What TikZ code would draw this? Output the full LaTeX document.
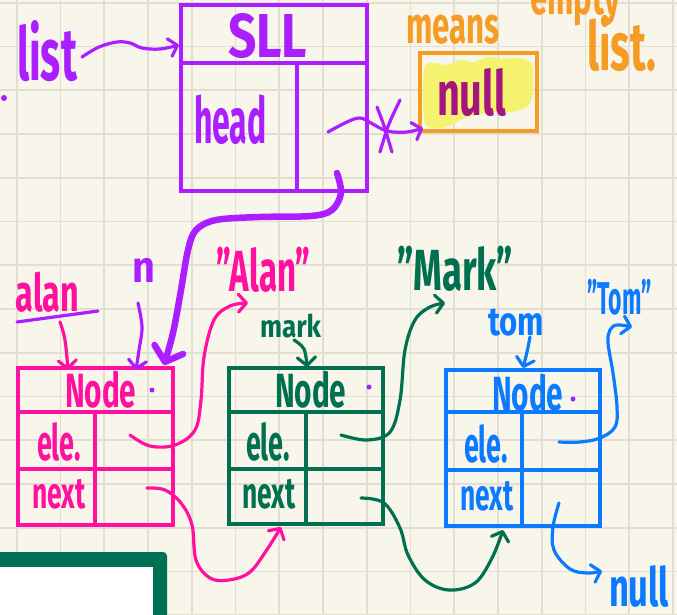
\documentclass[tikz,border=0pt]{standalone}
\usepackage{fontspec}
\setmainfont{Fira Sans}
\usetikzlibrary{arrows.meta,fit}

\definecolor{paper}{RGB}{248,246,234}
\definecolor{rule}{RGB}{225,223,210}
\definecolor{violetink}{RGB}{170,30,255}
\definecolor{pinkink}{RGB}{255,16,160}
\definecolor{greenink}{RGB}{0,112,80}
\definecolor{blueink}{RGB}{12,122,255}
\definecolor{orangeink}{RGB}{246,155,35}
\definecolor{plumink}{RGB}{166,20,128}
\definecolor{marker}{RGB}{244,242,110}
\definecolor{framegreen}{RGB}{0,112,82}

% squeeze a word horizontally, like a narrow hand
\newcommand\narrow[2]{\scalebox{#1}[1]{#2}}

\tikzset{
  cell/.style={draw=#1, line width=4pt, inner sep=0pt, outer sep=0pt},
  word/.style 2 args={text=#1, font=\bfseries\fontsize{#2pt}{#2pt}\selectfont,
    anchor=base west, inner sep=0pt, outer sep=0pt},
  link/.style={draw=#1, line width=3.2pt, line cap=round, line join=round,
    -{Straight Barb[round,length=8pt,width=18pt]}},
  fat/.style={draw=#1, line width=6.5pt, line cap=round, line join=round,
    -{Straight Barb[round,length=13pt,width=30pt]}},
  stroke/.style={draw=#1, line width=3.2pt, line cap=round, line join=round},
}

\begin{document}
\begin{tikzpicture}[x=1pt,y=-1pt]
\useasboundingbox (0,0) rectangle (677,614);
\fill[paper] (0,0) rectangle (677,614);

% squared paper
\foreach \i in {0,...,15}
  \draw[rule, line width=1.8pt] ({16.7+43.75*\i},0) -- ({16.7+43.75*\i},614);
\foreach \j in {0,...,14}
  \draw[rule, line width=1.8pt] (0,{2.7+43.75*\j}) -- (677,{2.7+43.75*\j});

% ---------- the list object ----------
\node[cell=violetink, fit={(181,5)(367,63)}] (sll-title) {};
\node[cell=violetink, fit={(181,63)(297,191)}] (sll-headkey) {};
\node[cell=violetink, fit={(297,63)(367,191)}] (sll-headval) {};
\node[word={violetink}{62}] (sll-txt) at (228,57) {\narrow{0.8}{SLL}};
\node[word={violetink}{64}] (head-txt) at (194,143) {\narrow{0.5}{head}};

\node[word={violetink}{74}] (lst-txt) at (17,80) {\narrow{0.56}{list}};
\fill[violetink] (4,98) circle (3);

% empty-list note
\fill[marker] plot[smooth cycle, tension=0.6] coordinates {
  (424,70) (433,63) (447,65) (460,60) (474,62) (488,57) (503,59) (518,58)
  (531,63) (533,80) (532,98) (525,108) (510,112) (493,112) (476,115)
  (462,119) (450,126) (432,128) (424,118)};
\node[cell=orangeink, fit={(420,53)(537,131)}] (nullbox) {};
\node[word={plumink}{62}] (null-txt) at (437,115) {\narrow{0.64}{null}};
\node[word={orangeink}{52}] (means-txt) at (406,43) {\narrow{0.6}{means}};
\node[word={orangeink}{52}] (empty-txt) at (530,14) {\narrow{0.6}{empty}};
\node[word={orangeink}{68}] (list-txt) at (587,70) {\narrow{0.6}{list.}};

% ---------- three nodes ----------
% pink
\node[cell=pinkink, fit={(18,368)(173,412)}] (pk-title) {};
\node[cell=pinkink, fit={(18,412)(95,469)}] (pk-elekey) {};
\node[cell=pinkink, fit={(95,412)(173,469)}] (pk-eleval) {};
\node[cell=pinkink, fit={(18,469)(95,525)}] (pk-nextkey) {};
\node[cell=pinkink, fit={(95,469)(173,525)}] (pk-nextval) {};
\node[word={pinkink}{48}] (pk-name) at (65,407) {\narrow{0.62}{Node}};
\node[word={pinkink}{50}] (pk-ele) at (37,460) {\narrow{0.54}{ele.}};
\node[word={pinkink}{44}] (pk-next) at (32,508) {\narrow{0.6}{next}};
\fill[violetink] (152,390) circle (2.5);

% green
\node[cell=greenink, fit={(229,368)(383,412)}] (gr-title) {};
\node[cell=greenink, fit={(229,412)(306,469)}] (gr-elekey) {};
\node[cell=greenink, fit={(306,412)(383,469)}] (gr-eleval) {};
\node[cell=greenink, fit={(229,469)(306,524)}] (gr-nextkey) {};
\node[cell=greenink, fit={(306,469)(383,524)}] (gr-nextval) {};
\node[word={greenink}{48}] (gr-name) at (275,407) {\narrow{0.62}{Node}};
\node[word={greenink}{50}] (gr-ele) at (246,460) {\narrow{0.54}{ele.}};
\node[word={greenink}{44}] (gr-next) at (242,508) {\narrow{0.6}{next}};
\fill[violetink] (369,387) circle (2.5);

% blue
\node[cell=blueink, fit={(446,370)(600,412)}] (bl-title) {};
\node[cell=blueink, fit={(446,412)(522,470)}] (bl-elekey) {};
\node[cell=blueink, fit={(522,412)(600,470)}] (bl-eleval) {};
\node[cell=blueink, fit={(446,470)(522,526)}] (bl-nextkey) {};
\node[cell=blueink, fit={(522,470)(600,526)}] (bl-nextval) {};
\node[word={blueink}{48}] (bl-name) at (492,410) {\narrow{0.62}{Node}};
\node[word={blueink}{50}] (bl-ele) at (464,462) {\narrow{0.54}{ele.}};
\node[word={blueink}{44}] (bl-next) at (460,510) {\narrow{0.6}{next}};
\fill[violetink] (573,399) circle (2.5);

% variable names and element strings
\node[word={pinkink}{52}] (alan-var) at (16,311) {\narrow{0.62}{alan}};
\node[word={violetink}{44}] (n-var) at (132,282) {\narrow{0.9}{n}};
\node[word={greenink}{31}] (mark-var) at (260,337) {\narrow{0.84}{mark}};
\node[word={blueink}{40}] (tom-var) at (488,335) {\narrow{0.78}{tom}};
\node[word={pinkink}{58}] (alan-str) at (216,291) {\narrow{0.57}{"Alan"}};
\node[word={greenink}{58}] (mark-str) at (397,290) {\narrow{0.63}{"Mark"}};
\node[word={blueink}{46}] (tom-str) at (587,314) {\narrow{0.5}{"Tom"}};
\node[word={blueink}{54}] (null-end) at (609,606) {\narrow{0.64}{null}};

\draw[stroke=violetink] (17,322) -- (98,311);

% ---------- connector end points ----------
\coordinate (lst-out) at (82,57);
\coordinate (sll-in) at (179,45);
\coordinate (head-out) at (328,132);
\coordinate (null-in) at (423,128);
\coordinate (head-down) at (337,173);
\coordinate (pk-in) at (164,365);
\coordinate (n-out) at (138,303);
\coordinate (n-in) at (136,370);
\coordinate (alan-out) at (60,322);
\coordinate (alan-in) at (68,370);
\coordinate (mark-out) at (294,340);
\coordinate (mark-in) at (307,367);
\coordinate (tom-out) at (530,337);
\coordinate (tom-in) at (523,368);
\coordinate (pk-ele-out) at (130,435);
\coordinate (alan-str-in) at (248,303);
\coordinate (pk-next-out) at (147,488);
\coordinate (gr-in) at (281,527);
\coordinate (gr-ele-out) at (341,435);
\coordinate (mark-str-in) at (445,303);
\coordinate (gr-next-out) at (361,498);
\coordinate (bl-in) at (503,530);
\coordinate (bl-ele-out) at (559,442);
\coordinate (tom-str-in) at (632,327);
\coordinate (bl-next-out) at (559,503);
\coordinate (null-end-in) at (602,571);

% ---------- connectors ----------
\draw[link=violetink] plot[smooth, tension=0.6] coordinates {
  (lst-out) (99,47) (117,42) (130,43) (142,48) (160,49) (sll-in)};
\draw[link=violetink] plot[smooth, tension=0.6] coordinates {
  (head-out) (347,122) (360,118) (371,123) (387,131) (407,132) (null-in)};
\draw[stroke=violetink] (377,107) .. controls (384,125) .. (392,152);
\draw[stroke=violetink] (400,100) .. controls (388,125) .. (380,152);

\draw[fat=violetink] plot[smooth, tension=0.55] coordinates {
  (head-down) (341,193) (332,210) (311,216) (259,217) (216,220) (196,230)
  (188,250) (181,290) (173,333) (pk-in)};

\draw[link=violetink] plot[smooth, tension=0.6] coordinates {
  (n-out) (142,327) (139,350) (n-in)};
\draw[link=pinkink] plot[smooth, tension=0.6] coordinates {
  (alan-out) (65,340) (alan-in)};
\draw[link=greenink] plot[smooth, tension=0.6] coordinates {
  (mark-out) (304,349) (mark-in)};
\draw[link=blueink] plot[smooth, tension=0.6] coordinates {
  (tom-out) (527,352) (tom-in)};

\draw[link=pinkink] plot[smooth, tension=0.6] coordinates {
  (pk-ele-out) (150,446) (175,445) (195,430) (201,400) (204,357) (214,320)
  (230,306) (alan-str-in)};
\draw[link=pinkink] plot[smooth, tension=0.6] coordinates {
  (pk-next-out) (165,490) (181,503) (192,525) (196,560) (210,578) (229,580)
  (250,572) (268,548) (gr-in)};
\draw[link=greenink] plot[smooth, tension=0.6] coordinates {
  (gr-ele-out) (367,440) (390,432) (400,400) (405,350) (415,320) (430,307)
  (mark-str-in)};
\draw[link=greenink] plot[smooth, tension=0.6] coordinates {
  (gr-next-out) (384,503) (400,528) (408,555) (425,580) (449,590) (475,583)
  (492,558) (bl-in)};
\draw[link=blueink] plot[smooth, tension=0.6] coordinates {
  (bl-ele-out) (580,442) (600,438) (615,427) (617,407) (613,373) (608,343)
  (610,330) (617,325) (tom-str-in)};
\draw[link=blueink] plot[smooth, tension=0.6] coordinates {
  (bl-next-out) (553,527) (554,550) (570,569) (588,573) (null-end-in)};

% corner of a panel below
\fill[framegreen, rounded corners=4pt] (-10,552) rectangle (167,630);
\fill[white] (-10,567) rectangle (153,630);
\end{tikzpicture}
\end{document}
